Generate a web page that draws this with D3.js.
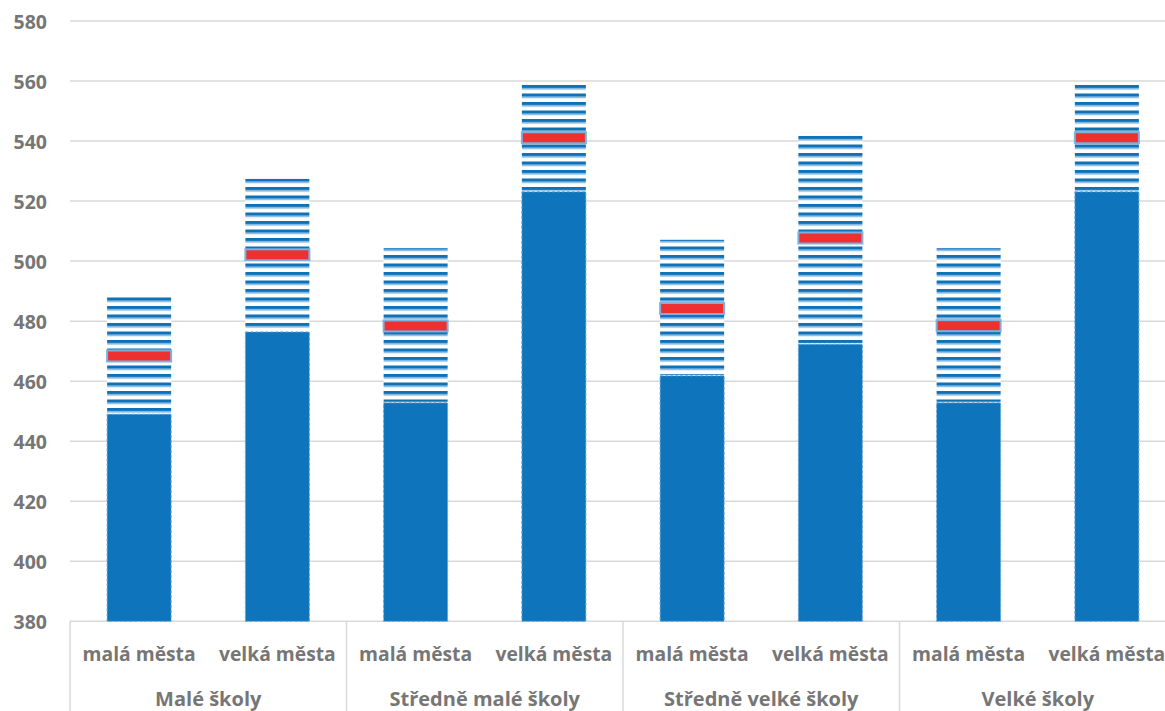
<!DOCTYPE html>
<html>
<head>
<meta charset="utf-8">
<script src="https://cdn.jsdelivr.net/npm/d3@7"></script>
<style>
  body { margin: 0; background: #fff; }
  svg text { font-family: "Open Sans", sans-serif; font-weight: 700; fill: #767676; }
</style>
</head>
<body>
<div id="chart"></div>
<script>
// data
const groups = ["Malé školy", "Středně malé školy", "Středně velké školy", "Velké školy"]
const towns = ["malá města", "velká města"]
const lower = [449, 476.4, 452.8, 523.1, 461.8, 472.3, 452.8, 523.1]
const upper = [488.8, 527.4, 504.3, 559.1, 507.1, 542.8, 504.3, 559.1]
const mean = [468.4, 502.1, 478.4, 541.1, 484.2, 507.7, 478.5, 541.1]
const yTicks = [380, 400, 420, 440, 460, 480, 500, 520, 540, 560, 580]

const W = 1165, H = 711
const margin = {top: 21, left: 70, bottom: 90}
const plotRight = margin.left + 4 * 276.5

const svg = d3.select("#chart").append("svg")
    .attr("width", W)
    .attr("height", H)

// build flat list of bars
const bars = []
groups.forEach((g, gi) => {
    towns.forEach((t, ti) => {
        const i = gi * towns.length + ti
        bars.push({key: g + "|" + t, group: g, town: t, lo: lower[i], hi: upper[i], mean: mean[i]})
    })
})

const y = d3.scaleLinear()
    .domain([380, 580])
    .range([H - margin.bottom + 0.3, margin.top])

const x = d3.scaleBand()
    .domain(bars.map(d => d.key))
    .range([margin.left, plotRight])

const xg = d3.scaleBand()
    .domain(groups)
    .range([margin.left, plotRight])

const barW = x.bandwidth() * 0.463

// stripe pattern for the range
const defs = svg.append("defs")
const pat = defs.append("pattern")
    .attr("id", "stripes")
    .attr("patternUnits", "userSpaceOnUse")
    .attr("width", 10)
    .attr("height", 8.5)
pat.append("rect").attr("width", 10).attr("height", 8.5).attr("fill", "#fff")
pat.append("rect").attr("width", 10).attr("height", 3.4).attr("fill", "#0e72b9")
pat.append("rect").attr("y", 3.4).attr("width", 10).attr("height", 1.4).attr("fill", "#9cc4e6")

// gridlines
svg.append("g")
    .selectAll("line")
    .data(yTicks)
    .join("line")
    .attr("x1", margin.left)
    .attr("x2", W)
    .attr("y1", d => y(d))
    .attr("y2", d => y(d))
    .attr("stroke", "#d9d9d9")
    .attr("stroke-width", 1.5)

// y axis labels
const yAxis = d3.axisLeft(y).tickValues(yTicks).tickSize(0).tickPadding(23)
const yg = svg.append("g")
    .attr("transform", "translate(" + margin.left + ",0)")
    .call(yAxis)
yg.select(".domain").remove()
yg.selectAll("text")
    .attr("font-size", 19.5)
    .attr("font-family", null)
    .attr("dy", "0.36em")

// solid part
svg.append("g")
    .selectAll("rect")
    .data(bars)
    .join("rect")
    .attr("x", d => x(d.key) + (x.bandwidth() - barW) / 2)
    .attr("width", barW)
    .attr("y", d => y(d.lo))
    .attr("height", d => y(380) - y(d.lo))
    .attr("fill", "#0e74bb")
    .attr("stroke", "#6aa6d9")
    .attr("stroke-width", 1)
    .attr("stroke-dasharray", "3,2")

// striped part
svg.append("g")
    .selectAll("rect")
    .data(bars)
    .join("rect")
    .attr("x", d => x(d.key) + (x.bandwidth() - barW) / 2)
    .attr("width", barW)
    .attr("y", d => y(d.hi))
    .attr("height", d => y(d.lo) - y(d.hi) - 1)
    .attr("fill", "url(#stripes)")

// mean markers
svg.append("g")
    .selectAll("rect")
    .data(bars)
    .join("rect")
    .attr("x", d => x(d.key) + (x.bandwidth() - barW) / 2)
    .attr("width", barW)
    .attr("y", d => y(d.mean) - 5.5)
    .attr("height", 11)
    .attr("fill", "#ee3030")
    .attr("stroke", "#7eb0de")
    .attr("stroke-width", 2)

// category axis
const axisY = y(380)
svg.append("g")
    .selectAll("line")
    .data(groups.concat(["end"]))
    .join("line")
    .attr("x1", (d, i) => margin.left + i * xg.step())
    .attr("x2", (d, i) => margin.left + i * xg.step())
    .attr("y1", axisY)
    .attr("y2", H)
    .attr("stroke", "#d9d9d9")
    .attr("stroke-width", 1.5)

svg.append("g")
    .selectAll("text")
    .data(bars)
    .join("text")
    .attr("x", d => x(d.key) + x.bandwidth() / 2)
    .attr("y", 661)
    .attr("text-anchor", "middle")
    .attr("font-size", 19.3)
    .text(d => d.town)

svg.append("g")
    .selectAll("text")
    .data(groups)
    .join("text")
    .attr("x", d => xg(d) + xg.bandwidth() / 2)
    .attr("y", 706)
    .attr("text-anchor", "middle")
    .attr("font-size", 20)
    .text(d => d)
</script>
</body>
</html>
